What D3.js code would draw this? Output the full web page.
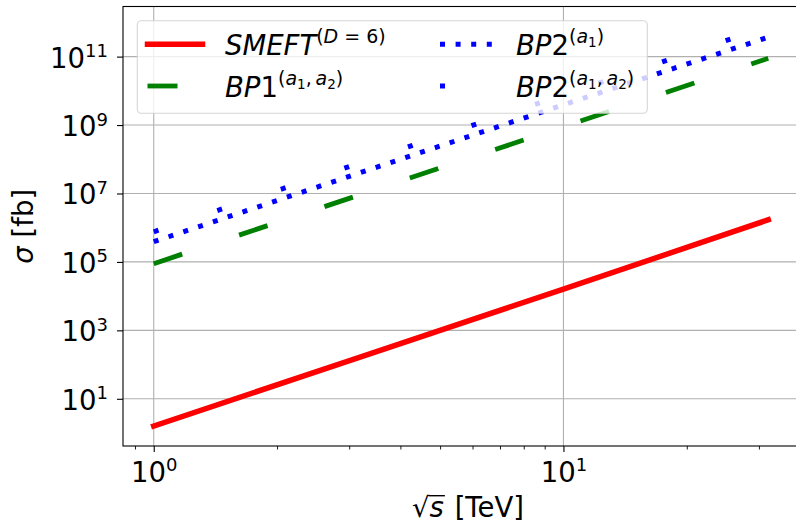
<!DOCTYPE html>
<html>
<head>
<meta charset="utf-8">
<script src="https://cdn.jsdelivr.net/npm/d3@7/dist/d3.min.js"></script>
<style>
  html, body { margin: 0; padding: 0; background: #fff; }
  text { font-family: "DejaVu Sans", sans-serif; white-space: pre; }
</style>
</head>
<body>
<svg id="chart" width="796" height="523"></svg>
<script>
// sqrt(s) in TeV and cross sections in fb
const sqrtS = [1, 3.162, 10, 31.62];
const smeft = [1.6, 1.6e2, 1.6e4, 1.7e6];
const bp1 = [8.9e4, 8.9e6, 8.9e8, 8.9e10];
const bp2a1 = [3.9e5, 3.9e7, 3.9e9, 3.7e11];
const bp2a1a2 = [7.6e5, 7.6e7, 7.6e9, 7.6e11];

const xMajor = [1, 10];
const xMinor = [0.9, 2, 3, 4, 5, 6, 7, 8, 9, 20, 30];
const yMajor = [1e1, 1e3, 1e5, 1e7, 1e9, 1e11];

const series = [
  { name: "smeft", values: smeft, color: "#ff0000", width: 5.5, dash: null, cap: "square" },
  { name: "bp1", values: bp1, color: "#008000", width: 4.8, dash: "30 60", cap: "butt" },
  { name: "bp2a1", values: bp2a1, color: "#0000ff", width: 5, dash: "5 10.6", cap: "butt" },
  { name: "bp2a1a2", values: bp2a1a2, color: "#0000ff", width: 5, dash: "5 62", cap: "butt" }
];

const margin = { left: 123, top: 6.5, right: 799, bottom: 446 };
const svg = d3.select("#chart");

// log axes with matplotlib-like 5% margins
const allY = series.flatMap((s) => s.values);
const lx = d3.extent(sqrtS, Math.log10);
const ly = d3.extent(allY, Math.log10);
const px = 0.05 * (lx[1] - lx[0]);
const py = 0.05 * (ly[1] - ly[0]);

const x = d3.scaleLog()
  .domain([10 ** (lx[0] - px), 10 ** (lx[1] + px)])
  .range([margin.left, margin.right]);
const y = d3.scaleLog()
  .domain([10 ** (ly[0] - py), 10 ** (ly[1] + py)])
  .range([margin.bottom, margin.top]);

// grid
const grid = svg.append("g").attr("stroke", "#b0b0b0").attr("stroke-width", 1.1);
grid.selectAll("line.gx").data(xMajor).join("line")
  .attr("x1", (d) => x(d)).attr("x2", (d) => x(d))
  .attr("y1", margin.top).attr("y2", margin.bottom);
grid.selectAll("line.gy").data(yMajor).join("line")
  .attr("x1", margin.left).attr("x2", margin.right)
  .attr("y1", (d) => y(d)).attr("y2", (d) => y(d));

// lines
svg.append("clipPath").attr("id", "clip")
  .append("rect")
  .attr("x", margin.left).attr("y", margin.top)
  .attr("width", margin.right - margin.left)
  .attr("height", margin.bottom - margin.top);

const line = d3.line().x((d) => x(d[0])).y((d) => y(d[1]));
svg.append("g").attr("clip-path", "url(#clip)")
  .selectAll("path")
  .data(series)
  .join("path")
  .attr("d", (s) => line(sqrtS.map((v, i) => [v, s.values[i]])))
  .attr("fill", "none")
  .attr("stroke", (s) => s.color)
  .attr("stroke-width", (s) => s.width)
  .attr("stroke-dasharray", (s) => s.dash)
  .attr("stroke-linecap", (s) => s.cap);

// frame
svg.append("rect")
  .attr("x", margin.left).attr("y", margin.top)
  .attr("width", margin.right - margin.left)
  .attr("height", margin.bottom - margin.top)
  .attr("fill", "none").attr("stroke", "#000").attr("stroke-width", 1.1);

function powerLabel(t, d, rise, supSize) {
  t.text(null);
  t.append("tspan").text("10");
  t.append("tspan").attr("dy", -rise).attr("font-size", supSize)
    .text(Math.round(Math.log10(d)));
}

// x axis
const gx = svg.append("g").attr("transform", `translate(0,${margin.bottom})`)
  .call(d3.axisBottom(x).tickValues(xMajor).tickSize(6).tickSizeOuter(0).tickFormat(() => ""));
gx.select(".domain").remove();
gx.selectAll(".tick line").attr("stroke-width", 1.1);
gx.selectAll(".tick text")
  .attr("y", 36).attr("dy", null)
  .attr("font-size", 27.5)
  .attr("font-family", "DejaVu Sans")
  .each(function (d) { powerLabel(d3.select(this), d, 11, 18); });
svg.append("g").attr("transform", `translate(0,${margin.bottom})`)
  .call(d3.axisBottom(x).tickValues(xMinor).tickSize(3.5).tickSizeOuter(0).tickFormat(() => ""))
  .call((g) => g.select(".domain").remove())
  .call((g) => g.selectAll(".tick line").attr("stroke-width", 0.9));

// y axis
const gy = svg.append("g").attr("transform", `translate(${margin.left},0)`)
  .call(d3.axisLeft(y).tickValues(yMajor).tickSize(6).tickSizeOuter(0).tickFormat(() => ""));
gy.select(".domain").remove();
gy.selectAll(".tick line").attr("stroke-width", 1.1);
gy.selectAll(".tick text")
  .attr("x", -15).attr("y", 10.5).attr("dy", null)
  .attr("font-size", 27.5)
  .attr("font-family", "DejaVu Sans")
  .attr("text-anchor", "end")
  .each(function (d) { powerLabel(d3.select(this), d, 10.5, 18); });

// axis labels
const yl = svg.append("text")
  .attr("transform", `translate(33,${(margin.top + margin.bottom) / 2}) rotate(-90)`)
  .attr("text-anchor", "middle").attr("font-size", 27.5);
yl.append("tspan").attr("font-style", "italic").text("σ");
yl.append("tspan").text(" [fb]");

const xl = svg.append("g");
const xBase = 516.7;
const rad = xl.append("text").attr("font-size", 27.5).attr("y", xBase).text("√");
const sv = xl.append("text").attr("font-size", 27.5).attr("font-style", "italic").attr("y", xBase).text("s");
const unit = xl.append("text").attr("font-size", 27.5).attr("y", xBase).text(" [TeV]");
const wr = rad.node().getComputedTextLength();
const ws = sv.node().getComputedTextLength();
const wu = unit.node().getComputedTextLength();
const x0 = 468 - (wr + ws + 2 + wu) / 2;
rad.attr("x", x0);
sv.attr("x", x0 + wr);
unit.attr("x", x0 + wr + ws + 2);
xl.append("line")
  .attr("x1", x0 + wr - 1).attr("x2", x0 + wr + ws + 1)
  .attr("y1", xBase - 21).attr("y2", xBase - 21)
  .attr("stroke", "#000").attr("stroke-width", 1.4);

// legend
const legend = svg.append("g");
legend.append("rect")
  .attr("x", 137.3).attr("y", 20.7).attr("width", 510).attr("height", 92.6)
  .attr("rx", 4)
  .attr("fill", "#fff").attr("fill-opacity", 0.8)
  .attr("stroke", "#cccccc").attr("stroke-opacity", 0.8).attr("stroke-width", 1.1);

const legendLabels = [
  [{ t: "SMEFT", i: 1, l: 0 }, { t: "(", l: 1 }, { t: "D", i: 1, l: 1 }, { t: " = 6)", l: 1 }],
  [{ t: "BP", i: 1, l: 0 }, { t: "1", l: 0 }, { t: "(", l: 1 }, { t: "a", i: 1, l: 1 }, { t: "1", l: 2 },
    { t: ",\u2009", l: 1 }, { t: "a", i: 1, l: 1 }, { t: "2", l: 2 }, { t: ")", l: 1 }],
  [{ t: "BP", i: 1, l: 0 }, { t: "2", l: 0 }, { t: "(", l: 1 }, { t: "a", i: 1, l: 1 }, { t: "1", l: 2 }, { t: ")", l: 1 }],
  [{ t: "BP", i: 1, l: 0 }, { t: "2", l: 0 }, { t: "(", l: 1 }, { t: "a", i: 1, l: 1 }, { t: "1", l: 2 },
    { t: ",\u2009", l: 1 }, { t: "a", i: 1, l: 1 }, { t: "2", l: 2 }, { t: ")", l: 1 }]
];
const levelShift = [0, -12, -8];
const levelSize = [27.5, 19, 13.5];
const handleX = [147.5, 440];
const textX = [225, 516];
const rowY = [44.3, 86];

series.forEach((s, k) => {
  const col = Math.floor(k / 2), row = k % 2;
  legend.append("line")
    .attr("x1", handleX[col]).attr("x2", handleX[col] + 55)
    .attr("y1", rowY[row]).attr("y2", rowY[row])
    .attr("stroke", s.color).attr("stroke-width", s.width)
    .attr("stroke-dasharray", s.dash).attr("stroke-linecap", s.cap);
  const t = legend.append("text").attr("x", textX[col]).attr("y", rowY[row] + 10.7);
  let cur = 0;
  legendLabels[k].forEach((p) => {
    t.append("tspan")
      .attr("dy", levelShift[p.l] - cur)
      .attr("font-size", levelSize[p.l])
      .attr("font-style", p.i ? "italic" : "normal")
      .text(p.t);
    cur = levelShift[p.l];
  });
});
</script>
</body>
</html>
